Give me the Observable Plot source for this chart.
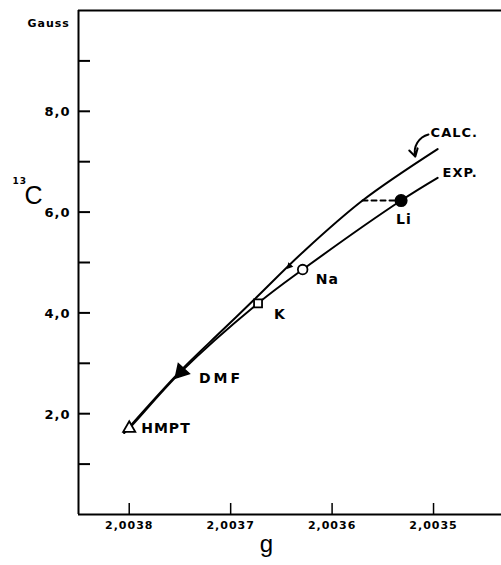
<!DOCTYPE html>
<html><head><meta charset="utf-8">
<script src="https://cdn.jsdelivr.net/npm/d3@7"></script>
<script src="https://cdn.jsdelivr.net/npm/@observablehq/plot@0.6"></script>
<style>
body{margin:0;background:#fff}
svg text{letter-spacing:1px}
</style>
</head><body><div id="chart"></div>
<script>
// ---- data ----
const xTicks = [2.0038, 2.0037, 2.0036, 2.0035];
const xTickLabels = ["2,0038", "2,0037", "2,0036", "2,0035"];
const yMajor = [2, 4, 6, 8];
const yMajorLabels = ["2,0", "4,0", "6,0", "8,0"];
const yMinor = [1, 2, 3, 4, 5, 6, 7, 8, 9];
const xDomain = [2.00385, 2.003433];
const yDomain = [0, 10];

const solvents = ["HMPT", "DMF", "K", "Na", "Li"];
const solventG = [2.0038, 2.003749, 2.003673, 2.003629, 2.003532];
const solventA = [1.71, 2.83, 4.19, 4.86, 6.23];

const expG = [2.003805, 2.0038, 2.003749, 2.003673, 2.003629, 2.003532, 2.003496];
const expA = [1.62, 1.71, 2.83, 4.19, 4.86, 6.23, 6.68];

const calcG = [2.003805, 2.003749, 2.003709, 2.003677, 2.003628, 2.003570, 2.003496];
const calcA = [1.62, 2.86, 3.64, 4.26, 5.22, 6.23, 7.25];

const liDashG = [2.003570, 2.003532];
const liDashA = [6.23, 6.23];

const calcTickG = [2.003642];
const calcTickA = [4.93];

const calloutG = [2.003505, 2.003518];
const calloutA = [7.54, 7.10];

const lineNames = ["CALC.", "EXP."];

// ---- build tables ----
const exp = expG.map((g, i) => ({g, a: expA[i]}));
const calc = calcG.map((g, i) => ({g, a: calcA[i]}));
const pts = solvents.map((name, i) => ({name, g: solventG[i], a: solventA[i]}));
const dash = liDashG.map((g, i) => ({g, a: liDashA[i]}));

const W = 501, H = 565, mL = 78, mT = 10, mB = 51, mR = 0;
const font = "'DejaVu Sans', sans-serif";

const labelStyle = {
  HMPT: {dx: 12, dy: 0},
  DMF: {dx: 18, dy: 7},
  K: {dx: 16, dy: 11},
  Na: {dx: 13, dy: 10},
  Li: {dx: -5, dy: 19}
};

const pointMark = (i, opts) => Plot.dot([pts[i]], {x: "g", y: "a", ...opts});

const chart = Plot.plot({
  width: W, height: H,
  marginLeft: mL, marginRight: mR, marginTop: mT, marginBottom: mB,
  style: {fontFamily: font, background: "white", color: "black", overflow: "visible"},
  x: {domain: xDomain, axis: null},
  y: {domain: yDomain, axis: null},
  marks: [
    // axes frame (left, bottom, top)
    Plot.ruleX([xDomain[0]], {strokeWidth: 2}),
    Plot.ruleY([yDomain[0]], {strokeWidth: 2}),
    Plot.ruleY([yDomain[1]], {strokeWidth: 2}),
    // inward ticks
    Plot.tickY(yMinor, {y: d => d, insetRight: W - mL - mR - 12, strokeWidth: 2}),
    Plot.tickX(xTicks, {x: d => d, insetTop: H - mT - mB - 11, strokeWidth: 1.5}),
    // tick labels
    Plot.text(yMajor, {y: d => d, frameAnchor: "left", text: (d, i) => yMajorLabels[i], textAnchor: "end", dx: -8, dy: 1, fontSize: 13, fontWeight: "bold"}),
    Plot.text(xTicks, {x: d => d, frameAnchor: "bottom", text: (d, i) => xTickLabels[i], dy: 14, fontSize: 11, fontWeight: "bold"}),
    // axis titles
    Plot.text(["Gauss"], {frameAnchor: "top-left", dx: -51, dy: 9, fontSize: 11, fontWeight: "bold"}),
    Plot.text(["13"], {frameAnchor: "top-left", dx: -66, dy: 167, fontSize: 9, fontWeight: "bold"}),
    Plot.text(["C"], {frameAnchor: "top-left", dx: -54, dy: 176, fontSize: 25, fontFamily: "'Liberation Sans', sans-serif"}),
    Plot.text(["g"], {frameAnchor: "bottom", dx: -23, dy: 37, fontSize: 24, fontFamily: "'Liberation Sans', sans-serif"}),
    // curves
    Plot.line(calc, {x: "g", y: "a", curve: "catmull-rom", strokeWidth: 2}),
    Plot.line(exp, {x: "g", y: "a", curve: "catmull-rom", strokeWidth: 2}),
    Plot.line(dash, {x: "g", y: "a", strokeWidth: 2, strokeDasharray: "5,4"}),
    // small arrowhead on calc
    Plot.dot(calcTickG.map((g, i) => ({g, a: calcTickA[i]})), {x: "g", y: "a", symbol: "triangle", r: 2.5, fill: "black", rotate: 222}),
    // callout arrow for CALC.
    Plot.arrow([{x1: calloutG[0], y1: calloutA[0], x2: calloutG[1], y2: calloutA[1]}], {x1: "x1", y1: "y1", x2: "x2", y2: "y2", bend: -45, strokeWidth: 2, headLength: 7}),
    // markers
    pointMark(0, {symbol: "triangle", r: 4.5, fill: "white", stroke: "black", strokeWidth: 1.8}),
    pointMark(1, {symbol: "triangle", r: 5.5, fill: "black", stroke: "black", rotate: 222}),
    pointMark(2, {symbol: "square", r: 4.5, fill: "white", stroke: "black", strokeWidth: 1.8}),
    pointMark(3, {symbol: "circle", r: 4.8, fill: "white", stroke: "black", strokeWidth: 1.8}),
    pointMark(4, {symbol: "circle", r: 5.8, fill: "black", stroke: "black"}),
    // point labels
    ...pts.map(p => Plot.text([p], {x: "g", y: "a", text: "name", textAnchor: "start", fontSize: 14, fontWeight: "bold", ...labelStyle[p.name]})),
    // line labels
    Plot.text([calc[calc.length - 1]], {x: "g", y: "a", text: () => lineNames[0], textAnchor: "start", dx: -7, dy: -16, fontSize: 13, fontWeight: "bold"}),
    Plot.text([exp[exp.length - 1]], {x: "g", y: "a", text: () => lineNames[1], textAnchor: "start", dx: 5, dy: -5, fontSize: 13, fontWeight: "bold"})
  ]
});
document.getElementById("chart").appendChild(chart);
d3.select(chart).selectAll("text").filter(function() { return this.textContent === "DMF"; }).style("letter-spacing", "3px");
</script>
</body></html>
